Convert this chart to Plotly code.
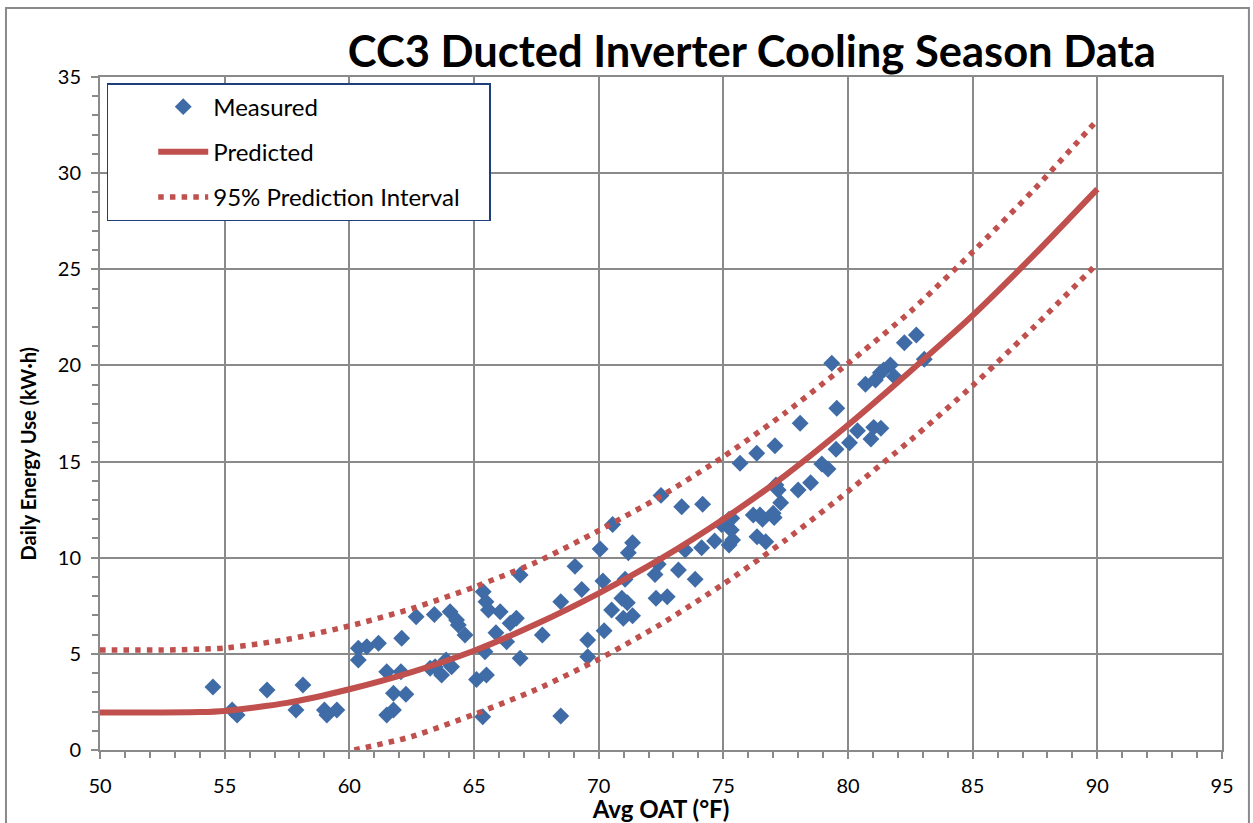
import plotly.graph_objects as go

# Measured daily energy use vs. average outdoor air temperature
oat_measured = [
    54.53, 55.3, 55.5, 56.7, 57.86, 58.14, 59.0, 59.1, 59.5,
    60.36, 60.70, 60.36, 61.17, 61.5, 62.1, 62.07, 61.77, 62.27, 61.5, 61.77,
    62.68, 63.41, 63.24, 63.44, 63.7, 63.88, 64.1, 64.04, 64.3, 64.37, 64.64,
    65.1, 65.5, 65.35, 65.44, 65.37, 65.48, 65.58, 66.05, 65.88, 66.31, 66.45,
    66.7, 66.85, 66.85, 67.74, 68.48, 68.48, 69.05, 69.32, 69.56, 69.56,
    70.06, 70.17, 70.22, 70.52, 70.56, 70.99, 70.93, 71.06, 71.15, 71.36,
    71.19, 71.36, 72.26, 72.39, 72.3, 72.75, 72.5, 73.2, 73.33, 73.87, 73.47,
    74.17, 74.13, 74.65, 74.93, 75.23, 75.32, 75.23, 75.37, 75.34,
    76.2, 76.47, 76.57, 77.0, 77.04, 76.35, 76.7, 75.67, 76.34, 77.07, 78.08,
    77.11, 77.2, 77.3, 78.0, 78.5, 78.95, 79.2, 79.52, 79.55, 79.35,
    80.06, 80.38, 80.92, 81.03, 81.32, 80.7, 81.1, 81.3, 81.43, 81.7, 81.86,
    82.26, 82.74, 83.06,
]
kwh_measured = [
    3.28, 2.08, 1.82, 3.12, 2.08, 3.38, 2.08, 1.82, 2.08,
    5.29, 5.37, 4.68, 5.55, 4.07, 5.81, 4.07, 2.95, 2.90, 1.82, 2.08,
    6.93, 7.05, 4.25, 4.33, 3.90, 4.68, 4.33, 7.19, 6.76, 6.50, 5.98,
    3.67, 3.90, 1.73, 5.11, 8.23, 7.71, 7.28, 7.19, 6.10, 5.63, 6.59,
    6.85, 9.10, 4.77, 5.98, 7.71, 1.77, 9.55, 8.35, 5.72, 4.85,
    10.45, 8.79, 6.20, 7.28, 11.73, 6.85, 7.89, 8.88, 7.66, 6.98,
    10.26, 10.78, 9.13, 9.66, 7.89, 7.97, 13.24, 9.36, 12.65, 8.88, 10.40,
    12.78, 10.52, 10.87, 11.72, 12.00, 11.44, 10.66, 10.92, 12.05,
    12.22, 12.22, 12.00, 12.31, 12.09, 11.09, 10.83, 14.91, 15.43, 15.82, 16.99,
    13.78, 13.52, 12.86, 13.52, 13.90, 14.87, 14.61, 15.64, 17.77, 20.11,
    15.98, 16.60, 16.17, 16.78, 16.73, 19.02, 19.24, 19.62, 19.76, 20.02, 19.42,
    21.18, 21.58, 20.32,
]

# Regression model and its 95% prediction interval
oat_model = [50, 52.5, 54, 55, 57.5, 60, 62.5, 65, 67.5, 70, 72.5, 75, 77.5,
             80, 82.5, 85, 87.5, 90]
kwh_predicted = [1.95, 1.95, 1.97, 2.03, 2.45, 3.16, 4.05, 5.16, 6.55, 8.15,
                 9.95, 12.0, 14.3, 16.9, 19.7, 22.6, 25.8, 29.17]

oat_upper = [50, 52.5, 55, 57.5, 60, 62.5, 65, 67.5, 70, 72.5, 75, 77.5, 80,
             82.5, 85, 87.5, 90]
kwh_upper = [5.2, 5.2, 5.3, 5.75, 6.45, 7.35, 8.47, 9.77, 11.41, 13.2, 15.25,
             17.55, 20.1, 22.8, 25.9, 29.2, 32.76]

oat_lower = [60.2, 62.5, 65, 67.5, 70, 72.5, 75, 77.5, 80, 82.5, 85, 87.5, 90]
kwh_lower = [0.0, 0.7, 1.85, 3.15, 4.72, 6.55, 8.63, 10.92, 13.45, 16.1,
             18.95, 22.05, 25.3]

x_ticks = [50, 55, 60, 65, 70, 75, 80, 85, 90, 95]
y_ticks = [0, 5, 10, 15, 20, 25, 30, 35]

FONT = "Lato, 'Open Sans', sans-serif"
RED = "#C0504D"
BLUE = "#3F6CA6"
GRID = "#8A8A8A"
DOTS = "5.5px,6.2px"

fig = go.Figure()

fig.add_trace(go.Scatter(
    x=oat_measured, y=kwh_measured, mode="markers", name="Measured",
    marker=dict(symbol="diamond", size=13, color=BLUE, line=dict(width=0)),
    legendgroup="a", cliponaxis=False,
))
fig.add_trace(go.Scatter(
    x=oat_model, y=kwh_predicted, mode="lines", name="Predicted",
    line=dict(color=RED, width=6, shape="spline", smoothing=0.6),
    legendgroup="b",
))
fig.add_trace(go.Scatter(
    x=oat_upper, y=kwh_upper, mode="lines",
    name="95% Prediction Interval\u00a0\u00a0\u00a0\u00a0",
    line=dict(color=RED, width=5.5, dash=DOTS, shape="spline", smoothing=0.6),
    legendgroup="c",
))
fig.add_trace(go.Scatter(
    x=oat_lower, y=kwh_lower, mode="lines", showlegend=False,
    line=dict(color=RED, width=5.5, dash=DOTS, shape="spline", smoothing=0.6),
    legendgroup="c",
))

axis_common = dict(
    showgrid=True, gridcolor=GRID, gridwidth=2,
    showline=True, linecolor=GRID, linewidth=2, mirror=True,
    ticks="outside", ticklen=7, tickcolor=GRID, tickwidth=2,
    zeroline=False, automargin=False,
    tickfont=dict(family=FONT, size=20, color="#000000"),
)

fig.update_xaxes(
    range=[50, 95], tickvals=x_ticks,
    minor=dict(dtick=1, ticks="outside", ticklen=6, tickcolor=GRID,
               tickwidth=1.5, showgrid=False),
    title=dict(text="<b>Avg OAT (°F)</b>", standoff=2,
               font=dict(family=FONT, size=24, color="#000000")),
    ticklabelstandoff=10,
    **axis_common,
)
fig.update_yaxes(
    range=[0, 35], tickvals=y_ticks,
    minor=dict(dtick=1, ticks="outside", ticklen=6, tickcolor=GRID,
               tickwidth=1.5, showgrid=False),
    ticklabelstandoff=6,
    **axis_common,
)

fig.update_layout(
    width=1253, height=823,
    margin=dict(l=100, r=31, t=77, b=73),
    paper_bgcolor="white", plot_bgcolor="white",
    title=dict(text="<b>CC3 Ducted Inverter Cooling Season Data</b>",
               x=0.6, xanchor="center", y=0.937, yanchor="middle",
               font=dict(family=FONT, size=43.5, color="#000000")),
    legend=dict(
        x=0.006, y=0.991, xanchor="left", yanchor="top",
        bgcolor="white", bordercolor="#1F3F7A", borderwidth=1.5,
        font=dict(family=FONT, size=24, color="#000000"),
        tracegroupgap=11, indentation=45, itemwidth=50,
    ),
    showlegend=True,
    annotations=[
        dict(text="<b>Daily Energy Use (kW·h)</b>", textangle=-90,
             xref="paper", yref="paper", x=-0.0646, y=0.44,
             xanchor="center", yanchor="middle", showarrow=False,
             font=dict(family=FONT, size=20, color="#000000")),
    ],
    shapes=[
        dict(type="rect", xref="paper", yref="paper",
             x0=-0.0838, x1=1.024, y0=-0.13, y1=1.1025,
             line=dict(color="#8A8A8A", width=2), layer="below"),
    ],
)

fig.write_html("out.html")
